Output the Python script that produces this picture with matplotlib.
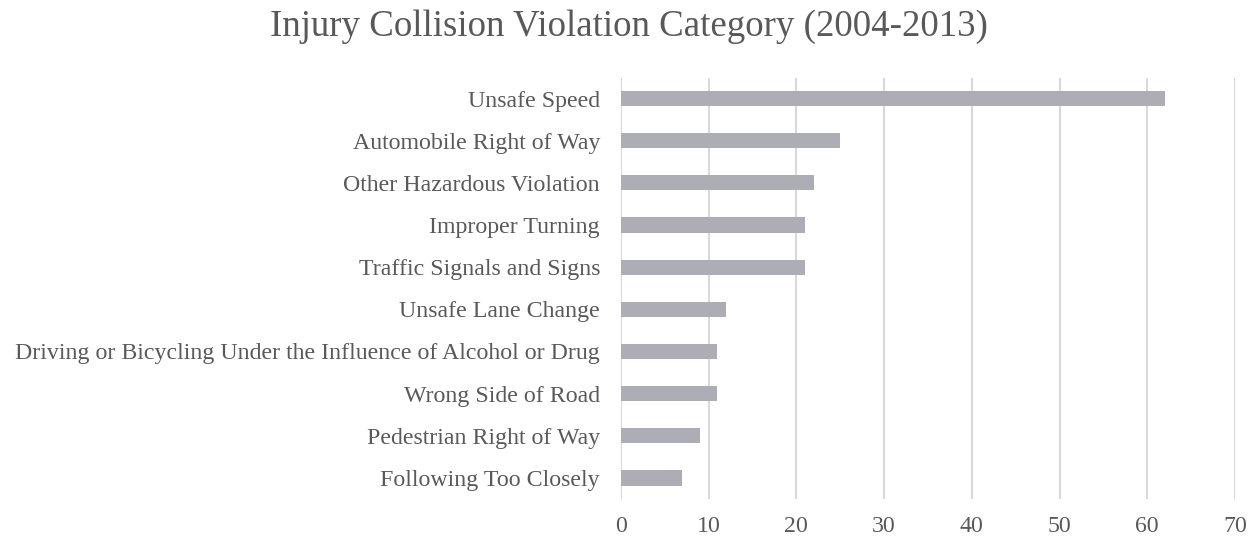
import matplotlib.pyplot as plt

categories = [
    "Unsafe Speed",
    "Automobile Right of Way",
    "Other Hazardous Violation",
    "Improper Turning",
    "Traffic Signals and Signs",
    "Unsafe Lane Change",
    "Driving or Bicycling Under the Influence of Alcohol or Drug",
    "Wrong Side of Road",
    "Pedestrian Right of Way",
    "Following Too Closely",
]
counts = [62, 25, 22, 21, 21, 12, 11, 11, 9, 7]
xticks = [0, 10, 20, 30, 40, 50, 60, 70]

plt.rcParams['font.family'] = ['Liberation Serif', 'DejaVu Serif']
text_color = '#595959'

fig = plt.figure(figsize=(12.58, 5.42), dpi=100)
ax = fig.add_axes([0.4936, 0.0793, 0.4881, 0.7777])

y = list(range(len(categories)))
ax.barh(y, counts, height=0.36, color='#ADADB5', zorder=3)
ax.set_ylim(len(categories) - 0.5, -0.5)
ax.set_yticks(y)
ax.set_yticklabels(categories)
ax.set_xlim(0, 70)
ax.set_xticks(xticks)

ax.grid(axis='x', color='#D9D9D9', linewidth=1.5, zorder=0)
for s in ax.spines.values():
    s.set_visible(False)
ax.tick_params(axis='both', length=0, labelsize=17.2, colors=text_color)
ax.tick_params(axis='y', pad=15)
ax.tick_params(axis='x', pad=12)

fig.suptitle("Injury Collision Violation Category (2004-2013)",
             fontsize=26.6, color=text_color, x=0.5, y=0.982, va='top')

fig.savefig('out.png', dpi=100)
